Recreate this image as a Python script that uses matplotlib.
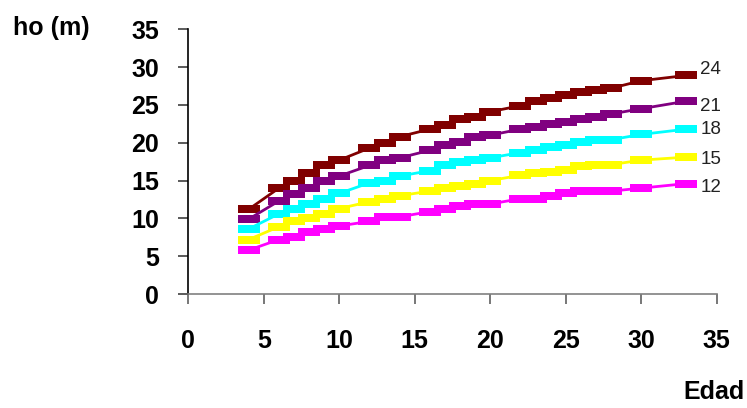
import matplotlib
matplotlib.use('Agg')
import matplotlib.pyplot as plt

plt.rcParams['font.family'] = ['Liberation Sans', 'DejaVu Sans']

edad = [4, 6, 7, 8, 9, 10, 12, 13, 14, 16, 17, 18, 19, 20,
        22, 23, 24, 25, 26, 27, 28, 30, 33]

ho_24 = [11.2, 14.0, 14.9, 16.0, 17.0, 17.7, 19.3, 20.0, 20.8, 21.8, 22.4, 23.1,
         23.4, 24.1, 24.9, 25.5, 25.9, 26.3, 26.7, 27.0, 27.2, 28.2, 28.9]
ho_21 = [9.9, 12.3, 13.2, 14.0, 15.0, 15.6, 17.0, 17.7, 18.0, 19.0, 19.7, 20.1,
         20.7, 21.0, 21.8, 22.1, 22.5, 22.8, 23.2, 23.4, 23.8, 24.5, 25.5]
ho_18 = [8.6, 10.6, 11.3, 11.9, 12.6, 13.3, 14.7, 14.9, 15.6, 16.3, 17.0, 17.4,
         17.7, 18.0, 18.7, 19.0, 19.4, 19.7, 20.1, 20.4, 20.4, 21.1, 21.8]
ho_15 = [7.2, 8.9, 9.6, 10.1, 10.6, 11.3, 12.2, 12.5, 13.0, 13.6, 14.0, 14.3,
         14.6, 15.0, 15.7, 16.0, 16.1, 16.4, 16.9, 17.1, 17.1, 17.7, 18.1]
ho_12 = [5.8, 7.2, 7.5, 8.2, 8.6, 9.0, 9.6, 10.2, 10.2, 10.9, 11.2, 11.6,
         11.9, 11.9, 12.6, 12.6, 13.0, 13.3, 13.6, 13.6, 13.6, 14.0, 14.6]

indices = ['24', '21', '18', '15', '12']
series = [ho_24, ho_21, ho_18, ho_15, ho_12]
colores = ['#800000', '#800080', '#00FFFF', '#FFFF00', '#FF00FF']
desplaz = [4, -4, 0, -2, -3]  # ajuste vertical de las etiquetas (pt)

# marcador rectangular ancho, como el de la figura original
rect = [(-1, -0.36), (1, -0.36), (1, 0.36), (-1, 0.36), (-1, -0.36)]

fig = plt.figure(figsize=(7.47, 4.08), dpi=100)
ax = fig.add_axes([0.2521, 0.2794, 0.7073, 0.6488])

for ho, idx, c, dy in zip(series, indices, colores, desplaz):
    ax.plot(edad, ho, '-', color=c, lw=2, marker=rect, markersize=16,
            markeredgewidth=0, markerfacecolor=c)
    ax.annotate(idx, (edad[-1], ho[-1]), xytext=(10, dy), textcoords='offset points',
                va='center', ha='left', fontsize=13.5, color='#222222',
                annotation_clip=False)

ax.set_xlim(0, 35)
ax.set_ylim(0, 35)
ax.set_xticks(range(0, 36, 5))
ax.set_yticks(range(0, 36, 5))

for s in ['top', 'right']:
    ax.spines[s].set_visible(False)
ax.spines['bottom'].set_color('#808080')
ax.spines['bottom'].set_linewidth(1.2)
ax.spines['left'].set_color('black')
ax.spines['left'].set_linewidth(1.2)

ax.tick_params(axis='x', direction='out', length=7, width=1.2, color='#606060',
               pad=18, labelsize=18)
ax.tick_params(axis='y', direction='out', length=7, width=1.2, color='#404040',
               pad=14, labelsize=18)
for lab in ax.get_xticklabels() + ax.get_yticklabels():
    lab.set_fontweight('bold')

fig.text(13 / 747, 1 - 28 / 408, 'ho (m)', fontsize=18, fontweight='bold',
         ha='left', va='center')
fig.text(745 / 747, 1 - 392 / 408, 'Edad', fontsize=18, fontweight='bold',
         ha='right', va='center')

fig.savefig('out.png', dpi=100)
